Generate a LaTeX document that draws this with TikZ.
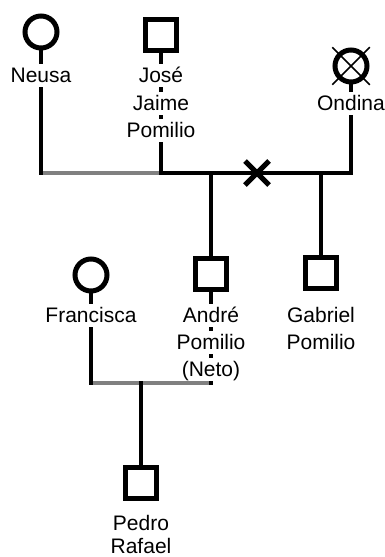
\documentclass[tikz,border=0pt]{standalone}
\usepackage{fontspec}
\setmainfont{Liberation Sans}
\usetikzlibrary{shapes.misc,calc}
\tikzset{
	homme/.style={draw, rectangle, line width=5pt, minimum size=31pt, inner sep=0},
	femme/.style={draw, circle, line width=5pt, minimum size=32pt, inner sep=0},
	nom/.style={fill=white, inner sep=0, anchor=base, text height=18pt, text depth=4.5pt, font=\fontsize{21}{25}\selectfont},
	trait/.style={line width=4pt, line cap=rect},
	union/.style={line width=4.5pt, draw=gray},
}
\begin{document}
\begin{tikzpicture}[x=1pt,y=-1pt]
		\useasboundingbox (0,0) rectangle (385,557);
		% points des lignes horizontales
		\coordinate (h1) at (41,173);
		\coordinate (h2) at (161,173);
		\coordinate (h3) at (211,173);
		\coordinate (h4) at (321,173);
		\coordinate (h5) at (351,173);
		\coordinate (b1) at (91,383);
		\coordinate (b2) at (141,383);
		\coordinate (b3) at (211,383);
		% personnes
		\node[femme] (neusa) at (41,32) {};
		\node[homme] (jose) at (161,35) {};
		\node[femme] (ondina) at (351,66) {};
		\node[homme] (andre) at (211,274) {};
		\node[homme] (gabriel) at (321,273) {};
		\node[femme] (francisca) at (91,275) {};
		\node[homme] (pedro) at (141,483) {};
		\node[cross out, draw, line width=1.5pt, minimum size=36pt, inner sep=0] (deces) at (ondina) {};
		% unions
		\draw[union] (h1)--(h2);
		\draw[union] (b1)--(b3);
		\draw[trait] (h2)--(h5);
		\node[cross out, draw, line width=5pt, minimum size=19pt, inner sep=0] (divorce) at (257,173) {};
		% traits verticaux
		\draw[trait] (neusa.south)--(h1);
		\draw[trait] (jose.south)--(h2);
		\draw[trait] (ondina.south)--(h5);
		\draw[trait] (h3)--(andre.north);
		\draw[trait] (andre.south)--(b3);
		\draw[trait] (h4)--(gabriel.north);
		\draw[trait] (francisca.south)--(b1);
		\draw[trait] (b2)--(pedro.north);
		% noms
		\node[nom] (neusaN) at (41,82) {Neusa};
		\node[nom] (joseA) at (161,82) {José};
		\node[nom] (joseB) at (161,110) {Jaime};
		\node[nom] (joseC) at (161,137) {Pomilio};
		\node[nom] (ondinaN) at (351,110) {Ondina};
		\node[nom] (andreA) at (211,322) {André};
		\node[nom] (andreB) at (211,349) {Pomilio};
		\node[nom] (andreC) at (211,376) {(Neto)};
		\node[nom] (gabrielA) at (321,322) {Gabriel};
		\node[nom] (gabrielB) at (321,349) {Pomilio};
		\node[nom] (franciscaN) at (91,322) {Francisca};
		\node[nom] (pedroA) at (141,530) {Pedro};
		\node[nom] (pedroB) at (141,553) {Rafael};
\end{tikzpicture}
\end{document}
